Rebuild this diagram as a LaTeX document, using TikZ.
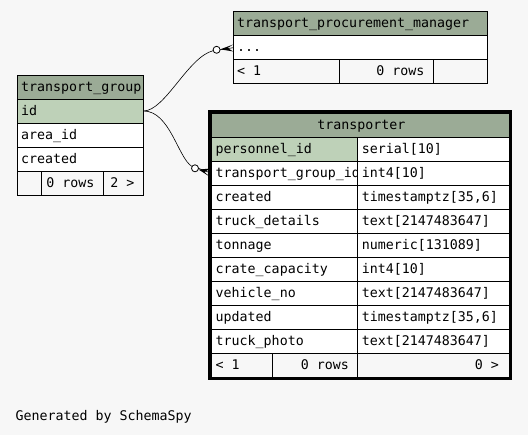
\documentclass[tikz,border=0pt]{standalone}
\usepackage{fontspec}
\setmonofont{DejaVu Sans Mono}
\definecolor{bg}{HTML}{F7F7F7}
\definecolor{hd}{HTML}{9BAB96}
\definecolor{pk}{HTML}{BED1B8}
\begin{document}
\begin{tikzpicture}[x=1pt,y=-1pt,
  font=\ttfamily\fontsize{13.3}{15}\selectfont,
  cell/.style={draw=black, line width=0.9pt, anchor=north west, inner sep=0, outer sep=0, minimum height=24pt},
  txt/.style={anchor=base west, inner sep=0, outer sep=0},
  txtr/.style={anchor=base east, inner sep=0, outer sep=0},
  edge/.style={draw=black, line width=0.6pt},
  circ/.style={circle, draw=black, fill=white, line width=0.8pt, minimum size=7pt, inner sep=0, outer sep=0}]
\useasboundingbox[fill=bg] (0,0) rectangle (528,435);

% ---------- transport_group ----------
\node[cell, fill=hd, minimum width=126pt] (tgh) at (17.5,75) {};
\node[cell, fill=pk, minimum width=126pt] (tgid) at (17.5,99) {};
\node[cell, fill=white, minimum width=126pt] (tgarea) at (17.5,123) {};
\node[cell, fill=white, minimum width=126pt] (tgcr) at (17.5,147) {};
\node[cell, fill=bg, minimum width=24.2pt] (tgf1) at (17.5,171) {};
\node[cell, fill=bg, minimum width=61.6pt] (tgf2) at (41.7,171) {};
\node[cell, fill=bg, minimum width=40.2pt] (tgf3) at (103.3,171) {};
\node[txt] (tght) at (21.2,91.3) {transport\_group};
\node[txt] (tgidt) at (21.2,115.3) {id};
\node[txt] (tgareat) at (21.2,139.3) {area\_id};
\node[txt] (tgcrt) at (21.2,163.3) {created};
\node[txt] (tgf2t) at (46.3,187.3) {0 rows};
\node[txt] (tgf3t) at (110.3,187.3) {2 >};

% ---------- transport_procurement_manager ----------
\node[cell, fill=hd, minimum width=254pt] (tpmh) at (233.3,11.7) {};
\node[cell, fill=white, minimum width=254pt] (tpmd) at (233.3,35.7) {};
\node[cell, fill=bg, minimum width=106pt] (tpmf1) at (233.3,59.7) {};
\node[cell, fill=bg, minimum width=94pt] (tpmf2) at (339.3,59.7) {};
\node[cell, fill=bg, minimum width=54pt] (tpmf3) at (433.3,59.7) {};
\node[txt] (tpmht) at (237,27.5) {transport\_procurement\_manager};
\node[txt] (tpmdt) at (237,51.5) {...};
\node[txt] (tpmf1t) at (237,75.5) {< 1};
\node[txtr] (tpmf2t) at (424.5,75.5) {0 rows};

% ---------- transporter ----------
\draw[line width=3.2pt] (209.4,112.1) rectangle (510.6,378.6);
\node[cell, fill=hd, minimum width=298pt] (trh) at (211.3,113.3) {};
\node[anchor=base, inner sep=0] (trht) at (361.3,129.5) {transporter};
\foreach \i/\a/\b/\f in {0/{personnel\_id}/{serial[10]}/pk,
  1/{transport\_group\_id}/{int4[10]}/white,
  2/{created}/{timestamptz[35,6]}/white,
  3/{truck\_details}/{text[2147483647]}/white,
  4/{tonnage}/{numeric[131089]}/white,
  5/{crate\_capacity}/{int4[10]}/white,
  6/{vehicle\_no}/{text[2147483647]}/white,
  7/{updated}/{timestamptz[35,6]}/white,
  8/{truck\_photo}/{text[2147483647]}/white}{
  \node[cell, fill=\f, minimum width=146pt] (trl\i) at (211.3,137.3+24*\i) {};
  \begin{scope}
    \clip (211.3,137.3+24*\i) rectangle (356.6,161.3+24*\i);
    \node[txt] (trlt\i) at (215.7,153.5+24*\i) {\a};
  \end{scope}
  \node[cell, fill=white, minimum width=152pt] (trr\i) at (357.3,137.3+24*\i) {};
  \node[txt] (trrt\i) at (361.8,153.5+24*\i) {\b};
}
\node[cell, fill=bg, minimum width=61pt] (trf1) at (211.3,353.3) {};
\node[cell, fill=bg, minimum width=85pt] (trf2) at (272.3,353.3) {};
\node[cell, fill=bg, minimum width=152pt] (trf3) at (357.3,353.3) {};
\node[txt] (trf1t) at (215.5,369.5) {< 1};
\node[txtr] (trf2t) at (348.8,369.5) {0 rows};
\node[txtr] (trf3t) at (498.8,369.5) {0 >};
\draw[line width=3.2pt] (209.4,112.1) rectangle (510.6,378.6);

% ---------- connectors ----------
\coordinate (src) at (tgid.east);
\node[circ] (o1) at (216.6,49.8) {};
\node[circ] (o2) at (195,168.3) {};
\coordinate (t1) at (tpmd.west);
\coordinate (t2) at (trl1.west);
\draw[edge] (src) .. controls (165,111) and (188,57) .. (o1);
\draw[edge] (src) .. controls (170,111) and (178,158) .. (o2);
% crow's feet
\fill (220.3,49.3) -- (233.3,44.5) -- (227.5,48) -- (233.3,51.5) -- cycle;
\draw[edge] (o1.east) -- (t1);
\fill (198.6,169.6) -- (210.5,168.5) -- (204.5,172) -- (209.5,176.5) -- cycle;
\draw[edge] (o2.east) -- (t2);

\node[txt] (gen) at (15.6,421) {Generated by SchemaSpy};
\end{tikzpicture}
\end{document}
